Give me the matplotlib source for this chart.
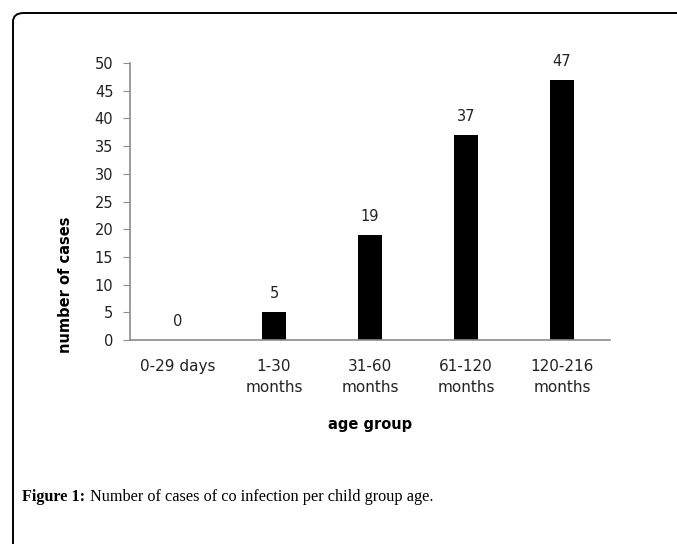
import matplotlib.pyplot as plt
from matplotlib.patches import FancyBboxPatch

groups = ["0-29 days", "1-30\nmonths", "31-60\nmonths", "61-120\nmonths", "120-216\nmonths"]
cases = [0, 5, 19, 37, 47]

W, H = 677, 544
fig = plt.figure(figsize=(W / 100, H / 100), dpi=100)

# frame round the figure (cut off at right and bottom)
frame = FancyBboxPatch((13 / W, -0.1), 1.2, (H - 13) / H + 0.1,
                       boxstyle="round,pad=0,rounding_size=0.016",
                       transform=fig.transFigure, fill=False,
                       edgecolor="black", linewidth=1.4)
fig.patches.append(frame)

ax = fig.add_axes([130 / W, 1 - 340 / H, (610 - 130) / W, (340 - 63) / H])
x = range(len(groups))
ax.bar(x, cases, width=0.25, color="black")
for i, v in zip(x, cases):
    ax.annotate(str(v), (i, v), xytext=(0, 8), textcoords="offset points",
                ha="center", va="bottom", fontsize=10.5, color="#222222")

ax.set_xlim(-0.5, len(groups) - 0.5)
ax.set_ylim(0, 50)
ax.set_yticks(range(0, 51, 5))
ax.set_xticks(list(x))
ax.set_xticklabels(groups, fontsize=11, color="#222222", linespacing=1.45)
ax.tick_params(axis="x", length=0, pad=14)
ax.tick_params(axis="y", length=5, color="#8c8c8c", labelsize=10.5,
               labelcolor="#222222", pad=7)
for s in ["top", "right"]:
    ax.spines[s].set_visible(False)
for s in ["left", "bottom"]:
    ax.spines[s].set_color("#8c8c8c")
    ax.spines[s].set_linewidth(1.2)

# axis titles placed like the Excel original
fig.text(65 / W, 1 - 285 / H, "number of cases", fontsize=10.5, fontweight="bold",
         rotation=90, ha="center", va="center")
fig.text(370 / W, 1 - 424 / H, "age group", fontsize=10.5, fontweight="bold",
         ha="center", va="center")

# caption
fig.canvas.draw()
cap_y = 1 - 501 / H
t1 = fig.text(22 / W, cap_y, "Figure 1:", fontsize=11.7, fontweight="bold",
              family="Liberation Serif", va="baseline")
bb = t1.get_window_extent(renderer=fig.canvas.get_renderer())
fig.text((bb.x1 + 5) / W, cap_y, "Number of cases of co infection per child group age.",
         fontsize=11.7, family="Liberation Serif", va="baseline")

fig.savefig("out.png", dpi=100)
